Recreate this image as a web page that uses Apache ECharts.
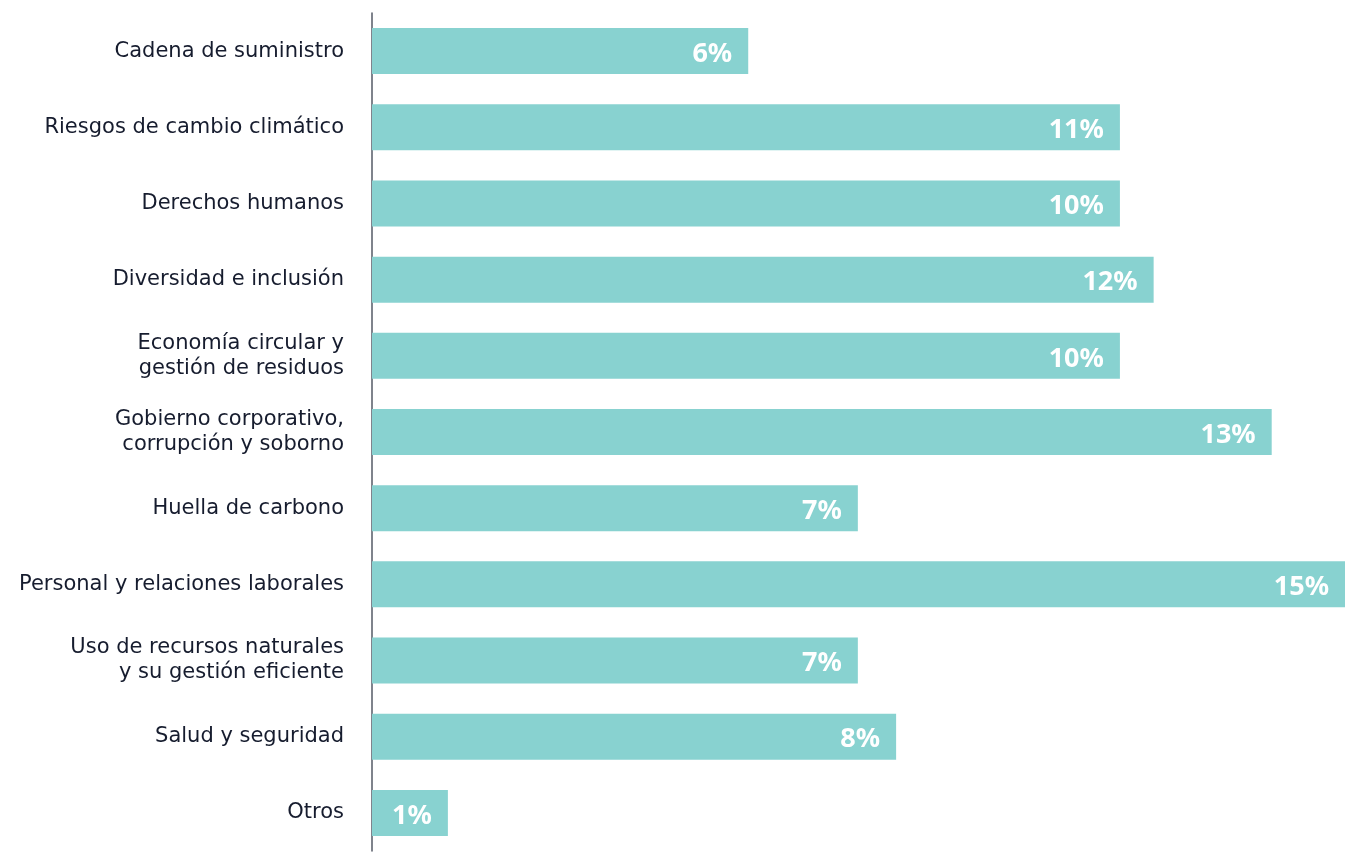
<!DOCTYPE html>
<html>
<head>
<meta charset="utf-8">
<title>Temas</title>
<script src="https://cdn.jsdelivr.net/npm/echarts@6/dist/echarts.min.js"></script>
<style>
    html, body { margin: 0; padding: 0; background: #fff; }
    #barChart { width: 1348px; height: 854px; }
</style>
</head>
<body>
<div id="barChart"></div>
<script>
// categorías (de arriba a abajo)
var categories = [
    'Cadena de suministro',
    'Riesgos de cambio climático',
    'Derechos humanos',
    'Diversidad e inclusión',
    'Economía circular y\ngestión de residuos',
    'Gobierno corporativo,\ncorrupción y soborno',
    'Huella de carbono',
    'Personal y relaciones laborales',
    'Uso de recursos naturales\ny su gestión eficiente',
    'Salud y seguridad',
    'Otros'
];
// longitud de cada barra
var barValues = [5.8, 11.53, 11.53, 12.05, 11.53, 13.87, 7.49, 15, 7.49, 8.08, 1.17];
// etiquetas que se muestran en cada barra
var valueLabels = ['6%', '11%', '10%', '12%', '10%', '13%', '7%', '15%', '7%', '8%', '1%'];

var barChart = echarts.init(document.getElementById('barChart'));

var seriesData = barValues.map(function (v, i) {
    return { value: v, labelText: valueLabels[i] };
});

var option = {
    animation: false,
    grid: { left: 372, right: 3, top: 13, bottom: 3, containLabel: false },
    xAxis: {
        type: 'value',
        min: 0,
        max: 15,
        show: false
    },
    yAxis: {
        type: 'category',
        inverse: true,
        data: categories,
        axisLine: { show: true, lineStyle: { color: '#555a66', width: 1.5 } },
        axisTick: { show: false },
        axisLabel: {
            margin: 28,
            color: '#161c2e',
            fontSize: 21,
            lineHeight: 25,
            fontFamily: 'DejaVu Sans',
            align: 'right'
        }
    },
    series: [{
        type: 'bar',
        barWidth: 46,
        data: seriesData,
        itemStyle: { color: '#88d2d0' },
        label: {
            show: true,
            position: 'insideRight',
            distance: 16,
            offset: [0, 3],
            color: '#ffffff',
            fontSize: 27,
            fontWeight: 'bold',
            fontFamily: 'Noto Sans',
            formatter: function (p) { return p.data.labelText; }
        }
    }]
};
barChart.setOption(option);

// 图表自适应
window.addEventListener('resize', function () {
    barChart.resize();
});
</script>
</body>
</html>
